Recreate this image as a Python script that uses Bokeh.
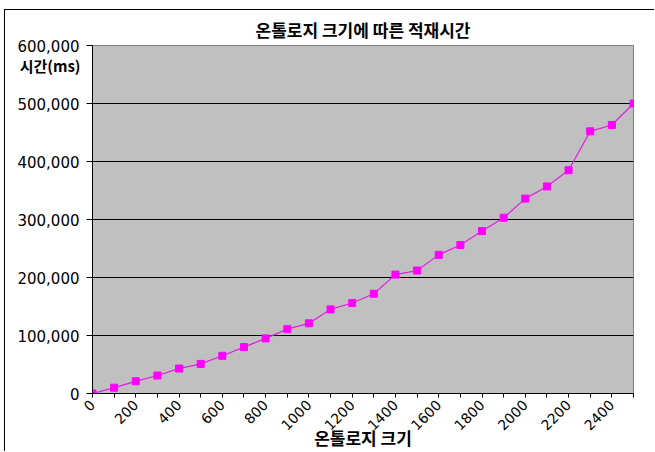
from bokeh.plotting import figure
from bokeh.models import Range1d, FixedTicker, NumeralTickFormatter, Title, LinearAxis
from bokeh.embed import file_html
from bokeh.resources import INLINE
from math import pi

# ---- data ----
ontology_size = [0, 100, 200, 300, 400, 500, 600, 700, 800, 900, 1000, 1100, 1200,
                 1300, 1400, 1500, 1600, 1700, 1800, 1900, 2000, 2100, 2200, 2300, 2400, 2500]
load_time_ms = [0, 10000, 21000, 31000, 43000, 51000, 65000, 80000, 95000, 111000, 121000,
                145000, 156000, 172000, 205000, 212000, 239000, 256000, 280000, 303000,
                336000, 357000, 385000, 452000, 463000, 500000]
x_tick_labels = ["0", "200", "400", "600", "800", "1000", "1200", "1400", "1600",
                 "1800", "2000", "2200", "2400"]
y_ticks = [0, 100000, 200000, 300000, 400000, 500000, 600000]

title_text = "온톨로지 크기에 따른 적재시간"
x_label_text = "온톨로지 크기"
y_label_text = "시간(ms)"
y_label_anchor = 566000   # where the horizontal y-axis caption sits

KFONT = "Noto Sans CJK KR"
NFONT = "DejaVu Sans"

p = figure(width=650, height=442, output_backend="svg", toolbar_location=None,
           x_range=Range1d(0, 2500), y_range=Range1d(0, 600000),
           min_border_left=87, min_border_right=22, min_border_top=35, min_border_bottom=59,
           margin=(9, 0, 0, 4),
           styles={"border-top": "1px solid black", "border-left": "1px solid black"})
p.background_fill_color = "#C0C0C0"
p.border_fill_color = "white"
p.outline_line_color = "#808080"
p.outline_line_width = 1

# title
p.add_layout(Title(text=title_text, align="center", offset=-22, standoff=7,
                   text_font=KFONT, text_font_style="bold", text_font_size="17px",
                   text_color="black"), "above")

# x axis
p.xaxis.ticker = FixedTicker(ticks=ontology_size, minor_ticks=[])
overrides = {}
for i, v in enumerate(ontology_size):
    overrides[v] = x_tick_labels[i // 2] if i % 2 == 0 else ""
p.xaxis.major_label_overrides = overrides
p.xaxis.major_label_orientation = pi / 4
p.xaxis.major_label_text_font = NFONT
p.xaxis.major_label_text_font_size = "14px"
p.xaxis.major_label_text_color = "black"
p.xaxis.major_label_standoff = 5
p.xaxis.major_tick_in = 0
p.xaxis.major_tick_out = 4
p.xaxis.axis_line_color = "black"
p.xaxis.major_tick_line_color = "black"
p.xaxis.axis_label = x_label_text
p.xaxis.axis_label_text_font = KFONT
p.xaxis.axis_label_text_font_style = "bold"
p.xaxis.axis_label_text_font_size = "17px"
p.xaxis.axis_label_text_color = "black"
p.xaxis.axis_label_standoff = -13

# y axis (inner): axis line and tick marks only
p.yaxis.ticker = FixedTicker(ticks=y_ticks, minor_ticks=[])
p.yaxis.major_label_overrides = {t: "" for t in y_ticks}
p.yaxis.major_label_standoff = 0
p.yaxis.major_tick_in = 0
p.yaxis.major_tick_out = 6
p.yaxis.axis_line_color = "black"
p.yaxis.major_tick_line_color = "black"

# y axis (middle): numeric tick labels
num_axis = LinearAxis(ticker=FixedTicker(ticks=y_ticks, minor_ticks=[]),
                      formatter=NumeralTickFormatter(format="0,0"),
                      axis_line_color=None, major_tick_line_color=None,
                      minor_tick_line_color=None, major_tick_in=0, major_tick_out=0,
                      major_label_standoff=7,
                      major_label_text_font=NFONT,
                      major_label_text_font_size="15px", major_label_text_color="black")
p.add_layout(num_axis, "left")

# y axis (outer): bold horizontal caption pulled back under the numbers
cap_axis = LinearAxis(ticker=FixedTicker(ticks=[y_label_anchor], minor_ticks=[]),
                      major_label_overrides={y_label_anchor: y_label_text},
                      axis_line_color=None, major_tick_line_color=None,
                      minor_tick_line_color=None, major_tick_in=0, major_tick_out=0,
                      major_label_standoff=-66,
                      major_label_text_font=KFONT, major_label_text_font_style="bold",
                      major_label_text_font_size="15px", major_label_text_color="black")
p.add_layout(cap_axis, "left")

p.xgrid.grid_line_color = None
p.ygrid.grid_line_color = "black"
p.ygrid.grid_line_width = 1.2

# series
p.line(ontology_size, load_time_ms, line_color="#E020E0", line_width=1.2)
p.scatter(ontology_size, load_time_ms, marker="square", size=7,
          fill_color="#FF00FF", line_color="#FF00FF")

open("out.html", "w").write(file_html(p, INLINE))
